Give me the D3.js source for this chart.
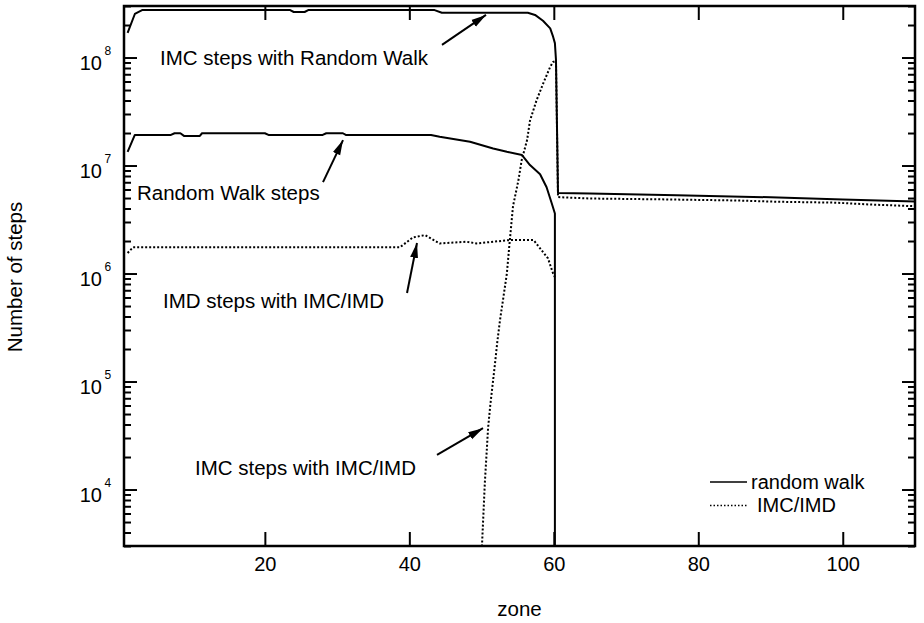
<!DOCTYPE html>
<html>
<head>
<meta charset="utf-8">
<script src="https://cdn.jsdelivr.net/npm/d3@7"></script>
<style>
  html, body { margin: 0; padding: 0; background: #fff; }
  svg { display: block; }
  text { font-family: "Liberation Sans", Arial, sans-serif; fill: #000; }
</style>
</head>
<body>
<svg id="chart" width="924" height="623"></svg>
<script>
// ---- data -------------------------------------------------------------
// Random walk run: IMC steps (solid)
const rwImcZone  = [1, 2, 3, 23.5, 24, 25.5, 26, 43.5, 44.5, 56.4, 57.4, 58.5, 59.5, 59.9, 60.15, 60.3, 60.58, 65, 77, 90, 100, 110];
const rwImcSteps = [1.69e8, 2.53e8, 2.75e8, 2.75e8, 2.64e8, 2.64e8, 2.75e8, 2.75e8, 2.6e8, 2.6e8, 2.48e8, 2.19e8, 1.86e8, 1.56e8, 1.36e8, 9.5e7, 5.56e6, 5.5e6, 5.3e6, 5.08e6, 4.85e6, 4.65e6];

// Random walk run: random walk steps (solid)
const rwZone  = [1, 2, 7, 7.5, 8.3, 8.8, 11, 11.3, 20, 20.5, 28, 28.5, 30.8, 31.2, 43, 44.2, 48.4, 51.6, 53.5, 55.6, 56.7, 58.1, 59.0, 59.7, 60.15, 60.15];
const rwSteps = [1.34e7, 1.92e7, 1.92e7, 1.99e7, 1.99e7, 1.88e7, 1.88e7, 1.99e7, 1.99e7, 1.92e7, 1.92e7, 1.99e7, 1.99e7, 1.92e7, 1.92e7, 1.85e7, 1.66e7, 1.44e7, 1.34e7, 1.25e7, 1.01e7, 8.3e6, 6.3e6, 4.5e6, 3.6e6, 1e3];

// IMC/IMD run: IMD steps (dotted)
const imdZone  = [1, 1.75, 38.7, 40.5, 42.2, 44.2, 47.9, 49.3, 51.6, 53.9, 57.2, 58.1, 59.2, 59.9, 60.15];
const imdSteps = [1.55e6, 1.75e6, 1.75e6, 2.16e6, 2.27e6, 1.9e6, 1.97e6, 1.9e6, 1.97e6, 2.04e6, 2.04e6, 1.71e6, 1.38e6, 1.0e6, 9.3e5];

// IMC/IMD run: IMC steps (dotted)
const imcZone  = [50.0, 50.45, 50.9, 51.2, 51.5, 51.85, 52.2, 52.55, 53.0, 53.5, 53.9, 54.35, 55.1, 55.55, 56.3, 56.7, 57.6, 58.55, 59.5, 59.9, 60.3, 60.58, 65, 75, 85, 91, 99, 104, 110];
const imcSteps = [2.5e3, 1.15e4, 3.7e4, 6e4, 9e4, 1.45e5, 2.4e5, 3.7e5, 5.9e5, 1.0e6, 2.0e6, 4.2e6, 7.3e6, 1.12e7, 1.72e7, 2.6e7, 4.0e7, 5.8e7, 8.2e7, 9.1e7, 9.3e7, 5.1e6, 4.95e6, 4.86e6, 4.75e6, 4.62e6, 4.53e6, 4.35e6, 4.2e6];

// axis ticks
const xTicks = [20, 40, 60, 80, 100];
const yMajorTicks = [1e4, 1e5, 1e6, 1e7, 1e8];

// legend entries
const legendLabels = ["random walk", "IMC/IMD"];

// callouts, anchored in data space (zone, steps)
const calloutText   = ["IMC steps with Random Walk", "Random Walk steps", "IMD steps with IMC/IMD", "IMC steps with IMC/IMD"];
const calloutAt     = [[5.48, 8.53e7], [2.3, 4.84e6], [5.9, 4.8e5], [10.33, 1.36e4]];
const calloutFrom   = [[44.52, 1.31e8], [28.05, 7.03e6], [39.68, 6.6e5], [43.83, 2.09e4]];
const calloutTo     = [[50.61, 2.48e8], [30.82, 1.72e7], [41.06, 1.92e6], [50.2, 3.7e4]];

// ---- layout -----------------------------------------------------------
const plot = { left: 124, top: 6, right: 915, bottom: 546 };
const svg = d3.select("#chart");
svg.append("rect").attr("width", 924).attr("height", 623).attr("fill", "#fff");

const x = d3.scaleLinear().domain([0.5, 110]).range([plot.left, plot.right]);
const y = d3.scaleLog().domain([3e3, 3e8]).range([plot.bottom, plot.top]);
const yMinorTicks = y.ticks().filter(v => !yMajorTicks.some(m => Math.abs(m - v) / m < 1e-9));

const defs = svg.append("defs");
defs.append("clipPath").attr("id", "plot-clip")
  .append("rect")
  .attr("x", plot.left).attr("y", plot.top)
  .attr("width", plot.right - plot.left).attr("height", plot.bottom - plot.top);
defs.append("marker")
  .attr("id", "arrowhead")
  .attr("markerUnits", "userSpaceOnUse")
  .attr("markerWidth", 16).attr("markerHeight", 10)
  .attr("refX", 15).attr("refY", 5)
  .attr("orient", "auto")
  .append("path").attr("d", "M0,1 L15,5 L0,9 Z").attr("fill", "#000");

// ---- axes -------------------------------------------------------------
function styleAxis(g) {
  g.select(".domain").remove();
  g.selectAll(".tick line").attr("stroke", "#000").attr("stroke-width", 2);
  g.attr("font-family", null).attr("font-size", null);
}

svg.append("g")
  .attr("transform", `translate(0,${plot.bottom})`)
  .call(d3.axisBottom(x).tickValues(xTicks).tickSize(-14).tickSizeOuter(0).tickPadding(11).tickFormat(d3.format("d")))
  .call(styleAxis)
  .call(g => g.selectAll(".tick text").attr("font-size", 20));

svg.append("g")
  .attr("transform", `translate(0,${plot.top})`)
  .call(d3.axisTop(x).tickValues(xTicks).tickSize(-14).tickSizeOuter(0).tickFormat(""))
  .call(styleAxis);

[[plot.left, d3.axisLeft], [plot.right, d3.axisRight]].forEach(([px, axisFn]) => {
  svg.append("g")
    .attr("transform", `translate(${px},0)`)
    .call(axisFn(y).tickValues(yMinorTicks).tickSize(-7).tickSizeOuter(0).tickFormat(""))
    .call(styleAxis);
  svg.append("g")
    .attr("class", px === plot.left ? "y-major-left" : "y-major-right")
    .attr("transform", `translate(${px},0)`)
    .call(axisFn(y).tickValues(yMajorTicks).tickSize(-13).tickSizeOuter(0).tickFormat(""))
    .call(styleAxis);
});

// power-of-ten labels on the left axis
svg.select(".y-major-left").selectAll(".tick").each(function (d) {
  const t = d3.select(this);
  t.selectAll("text").remove();
  t.append("text").attr("x", -22).attr("y", 11.5)
    .attr("text-anchor", "end").attr("font-size", 20).text("10");
  t.append("text").attr("x", -19.5).attr("y", -3.5)
    .attr("text-anchor", "start").attr("font-size", 12)
    .text(Math.round(Math.log10(d)));
});

// frame
svg.append("rect")
  .attr("x", plot.left).attr("y", plot.top)
  .attr("width", plot.right - plot.left).attr("height", plot.bottom - plot.top)
  .attr("fill", "none").attr("stroke", "#000").attr("stroke-width", 2.5);

// axis titles
svg.append("text")
  .attr("transform", `translate(22,${(plot.top + plot.bottom) / 2 + 1}) rotate(-90)`)
  .attr("text-anchor", "middle").attr("font-size", 20.5)
  .text("Number of steps");
svg.append("text")
  .attr("x", (plot.left + plot.right) / 2).attr("y", 616)
  .attr("text-anchor", "middle").attr("font-size", 20.5)
  .text("zone");

// ---- curves -----------------------------------------------------------
const line = d3.line().x(d => x(d[0])).y(d => y(d[1]));
const pairs = (zs, vs) => zs.map((z, i) => [z, vs[i]]);

const curves = svg.append("g").attr("clip-path", "url(#plot-clip)");
const series = [
  { pts: pairs(rwImcZone, rwImcSteps), dotted: false },
  { pts: pairs(rwZone, rwSteps),       dotted: false },
  { pts: pairs(imdZone, imdSteps),     dotted: true },
  { pts: pairs(imcZone, imcSteps),     dotted: true }
];
series.forEach(s => {
  curves.append("path")
    .attr("d", line(s.pts))
    .attr("fill", "none")
    .attr("stroke", "#000")
    .attr("stroke-width", 2)
    .attr("stroke-linejoin", "round")
    .attr("stroke-dasharray", s.dotted ? "2,2" : null);
});

// ---- callouts ---------------------------------------------------------
calloutText.forEach((label, i) => {
  svg.append("text")
    .attr("x", x(calloutAt[i][0])).attr("y", y(calloutAt[i][1]))
    .attr("font-size", 20.5)
    .text(label);
  svg.append("line")
    .attr("x1", x(calloutFrom[i][0])).attr("y1", y(calloutFrom[i][1]))
    .attr("x2", x(calloutTo[i][0])).attr("y2", y(calloutTo[i][1]))
    .attr("stroke", "#000").attr("stroke-width", 2)
    .attr("marker-end", "url(#arrowhead)");
});

// ---- legend -----------------------------------------------------------
const legend = svg.append("g").attr("transform", "translate(710,482)");
legendLabels.forEach((label, i) => {
  const row = legend.append("g").attr("transform", `translate(0,${i * 23.5})`);
  row.append("line")
    .attr("x1", 0).attr("x2", 37).attr("y1", 0).attr("y2", 0)
    .attr("stroke", "#000").attr("stroke-width", 1.5)
    .attr("stroke-dasharray", i === 1 ? "1.5,2" : null);
  row.append("text")
    .attr("x", i === 1 ? 47 : 41).attr("y", 6.5)
    .attr("font-size", 20)
    .text(label);
});
</script>
</body>
</html>
